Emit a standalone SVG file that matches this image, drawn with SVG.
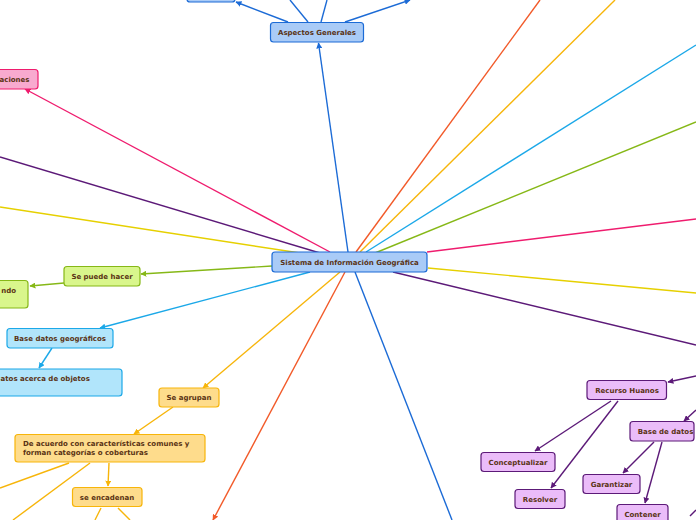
<svg xmlns="http://www.w3.org/2000/svg" width="696" height="520" viewBox="0 0 696 520">
<style>
text{font-family:"DejaVu Sans","Liberation Sans",sans-serif;font-weight:bold;font-size:7px;fill:#5a3314}
.c{text-anchor:middle}
.ln{fill:none;stroke-width:1.4}
.blue{stroke:#1c6bd6}.bluef{fill:#a9cbf7;stroke:#1c6bd6;stroke-width:1.2}
.pink{stroke:#ef1c6e}.pinkf{fill:#f8aacf;stroke:#ef1c6e;stroke-width:1.2}
.purp{stroke:#5c1a78}.purpf{fill:#ebbcf9;stroke:#5c1a78;stroke-width:1.2}
.yel{stroke:#e6d000}
.grn{stroke:#86b817}.grnf{fill:#d9f68c;stroke:#86b817;stroke-width:1.2}
.cyan{stroke:#1ba8e8}.cyanf{fill:#b1e5fb;stroke:#1ba8e8;stroke-width:1.2}
.org{stroke:#f7b50a}.orgf{fill:#fedc8c;stroke:#f7b50a;stroke-width:1.2}
.red{stroke:#f25a29}
</style>
<defs>
<marker id="aBlue" viewBox="0 0 10 10" refX="9" refY="5" markerWidth="6" markerHeight="6" orient="auto" markerUnits="userSpaceOnUse"><path d="M0,0L10,5L0,10z" fill="#1c6bd6"/></marker>
<marker id="aPink" viewBox="0 0 10 10" refX="9" refY="5" markerWidth="6" markerHeight="6" orient="auto" markerUnits="userSpaceOnUse"><path d="M0,0L10,5L0,10z" fill="#ef1c6e"/></marker>
<marker id="aPurp" viewBox="0 0 10 10" refX="9" refY="5" markerWidth="6" markerHeight="6" orient="auto" markerUnits="userSpaceOnUse"><path d="M0,0L10,5L0,10z" fill="#5c1a78"/></marker>
<marker id="aGrn" viewBox="0 0 10 10" refX="9" refY="5" markerWidth="6" markerHeight="6" orient="auto" markerUnits="userSpaceOnUse"><path d="M0,0L10,5L0,10z" fill="#86b817"/></marker>
<marker id="aCyan" viewBox="0 0 10 10" refX="9" refY="5" markerWidth="6" markerHeight="6" orient="auto" markerUnits="userSpaceOnUse"><path d="M0,0L10,5L0,10z" fill="#1ba8e8"/></marker>
<marker id="aOrg" viewBox="0 0 10 10" refX="9" refY="5" markerWidth="6" markerHeight="6" orient="auto" markerUnits="userSpaceOnUse"><path d="M0,0L10,5L0,10z" fill="#f7b50a"/></marker>
<marker id="aRed" viewBox="0 0 10 10" refX="9" refY="5" markerWidth="6" markerHeight="6" orient="auto" markerUnits="userSpaceOnUse"><path d="M0,0L10,5L0,10z" fill="#f25a29"/></marker>
</defs>
<rect width="696" height="520" fill="#fff"/>
<g id="connectors">
<line class="ln blue" x1="348" y1="252" x2="318.5" y2="43" marker-end="url(#aBlue)"/>
<line class="ln blue" x1="288" y1="22" x2="236" y2="2" marker-end="url(#aBlue)"/>
<line class="ln blue" x1="308" y1="22" x2="290" y2="0"/>
<line class="ln blue" x1="321" y1="22" x2="327" y2="0"/>
<line class="ln blue" x1="345" y1="22" x2="410" y2="0" marker-end="url(#aBlue)"/>
<line class="ln blue" x1="355" y1="272" x2="452" y2="520"/>
<line class="ln pink" x1="330" y1="252" x2="25" y2="89" marker-end="url(#aPink)"/>
<line class="ln pink" x1="427" y1="252" x2="696" y2="219"/>
<line class="ln purp" x1="320" y1="253" x2="0" y2="157"/>
<line class="ln purp" x1="393" y1="272" x2="696" y2="345"/>
<line class="ln purp" x1="696" y1="376" x2="668" y2="382" marker-end="url(#aPurp)"/>
<line class="ln purp" x1="611" y1="401" x2="535" y2="451" marker-end="url(#aPurp)"/>
<line class="ln purp" x1="618" y1="401" x2="551" y2="488" marker-end="url(#aPurp)"/>
<line class="ln purp" x1="696" y1="410" x2="684" y2="421" marker-end="url(#aPurp)"/>
<line class="ln purp" x1="654" y1="442" x2="623" y2="473" marker-end="url(#aPurp)"/>
<line class="ln purp" x1="662" y1="442" x2="645" y2="503" marker-end="url(#aPurp)"/>
<line class="ln purp" x1="696" y1="510" x2="690" y2="516"/>
<line class="ln yel" x1="300" y1="253" x2="0" y2="207"/>
<line class="ln yel" x1="428" y1="268" x2="696" y2="293"/>
<line class="ln grn" x1="272" y1="266" x2="141" y2="274" marker-end="url(#aGrn)"/>
<line class="ln grn" x1="64" y1="283" x2="30" y2="286" marker-end="url(#aGrn)"/>
<line class="ln grn" x1="375" y1="253" x2="696" y2="122"/>
<line class="ln cyan" x1="310" y1="272" x2="100" y2="328" marker-end="url(#aCyan)"/>
<line class="ln cyan" x1="52" y1="348" x2="39" y2="368" marker-end="url(#aCyan)"/>
<line class="ln cyan" x1="366" y1="252" x2="696" y2="45"/>
<line class="ln org" x1="340" y1="272" x2="203" y2="388" marker-end="url(#aOrg)"/>
<line class="ln org" x1="173" y1="407" x2="134" y2="434" marker-end="url(#aOrg)"/>
<line class="ln org" x1="69" y1="463" x2="0" y2="488"/>
<line class="ln org" x1="90" y1="463" x2="13" y2="520"/>
<line class="ln org" x1="109" y1="463" x2="108" y2="486" marker-end="url(#aOrg)"/>
<line class="ln org" x1="101" y1="508" x2="95" y2="520"/>
<line class="ln org" x1="118" y1="508" x2="130" y2="520"/>
<line class="ln org" x1="360" y1="252" x2="615" y2="0"/>
<line class="ln red" x1="345" y1="272" x2="213" y2="520" marker-end="url(#aRed)"/>
<line class="ln red" x1="356" y1="252" x2="540" y2="0"/>
</g>
<g id="n-central"><rect class="bluef" x="272" y="252" width="155" height="20" rx="3"/><text class="c" x="349.5" y="264.5">Sistema de Información Geográfica</text></g>
<g id="n-aspectos"><rect class="bluef" x="270.5" y="22.5" width="93" height="19.5" rx="3"/><text class="c" x="317" y="34.5">Aspectos Generales</text></g>
<g id="n-topleft"><rect class="bluef" x="187" y="-18" width="48" height="20" rx="3"/></g>
<g id="n-aplicaciones"><rect class="pinkf" x="-40" y="69.5" width="78" height="19.5" rx="3"/><text x="29.5" y="81.5" text-anchor="end">aciones</text></g>
<g id="n-sepuede"><rect class="grnf" x="64" y="266.5" width="76" height="19.5" rx="3"/><text class="c" x="102" y="278.5">Se puede hacer</text></g>
<g id="n-green2"><rect class="grnf" x="-40" y="280.5" width="68" height="27.5" rx="3"/><text x="16" y="292.5" text-anchor="end">ndo</text></g>
<g id="n-basegeo"><rect class="cyanf" x="7" y="328.5" width="106" height="19.5" rx="3"/><text class="c" x="60" y="340.5">Base datos geográficos</text></g>
<g id="n-datos"><rect class="cyanf" x="-40" y="369" width="162" height="27" rx="3"/><text x="0.5" y="380.5">atos acerca de objetos</text></g>
<g id="n-agrupan"><rect class="orgf" x="159" y="388" width="60" height="19" rx="3"/><text class="c" x="189" y="400">Se agrupan</text></g>
<g id="n-acuerdo"><rect class="orgf" x="15" y="434.5" width="190" height="27.5" rx="3"/><text x="23" y="446">De acuerdo con características comunes y</text><text x="23" y="455">forman categorías o coberturas</text></g>
<g id="n-encadenan"><rect class="orgf" x="72.5" y="487.5" width="69.5" height="19" rx="3"/><text class="c" x="107" y="499.5">se encadenan</text></g>
<g id="n-recurso"><rect class="purpf" x="587" y="380.5" width="79.5" height="19" rx="3"/><text class="c" x="627" y="392.5">Recurso Huanos</text></g>
<g id="n-conceptualizar"><rect class="purpf" x="481" y="452.5" width="74" height="19" rx="3"/><text class="c" x="518" y="464.5">Conceptualizar</text></g>
<g id="n-resolver"><rect class="purpf" x="515" y="489.5" width="50" height="19" rx="3"/><text class="c" x="540" y="501.5">Resolver</text></g>
<g id="n-basedatos"><rect class="purpf" x="630" y="421.5" width="64" height="19.5" rx="3"/><text class="c" x="665.5" y="433.5">Base de datos</text></g>
<g id="n-garantizar"><rect class="purpf" x="583" y="474.5" width="57" height="19" rx="3"/><text class="c" x="611.5" y="486.5">Garantizar</text></g>
<g id="n-contener"><rect class="purpf" x="617" y="504.5" width="51" height="20" rx="3"/><text class="c" x="642.5" y="516.5">Contener</text></g>
</svg>
